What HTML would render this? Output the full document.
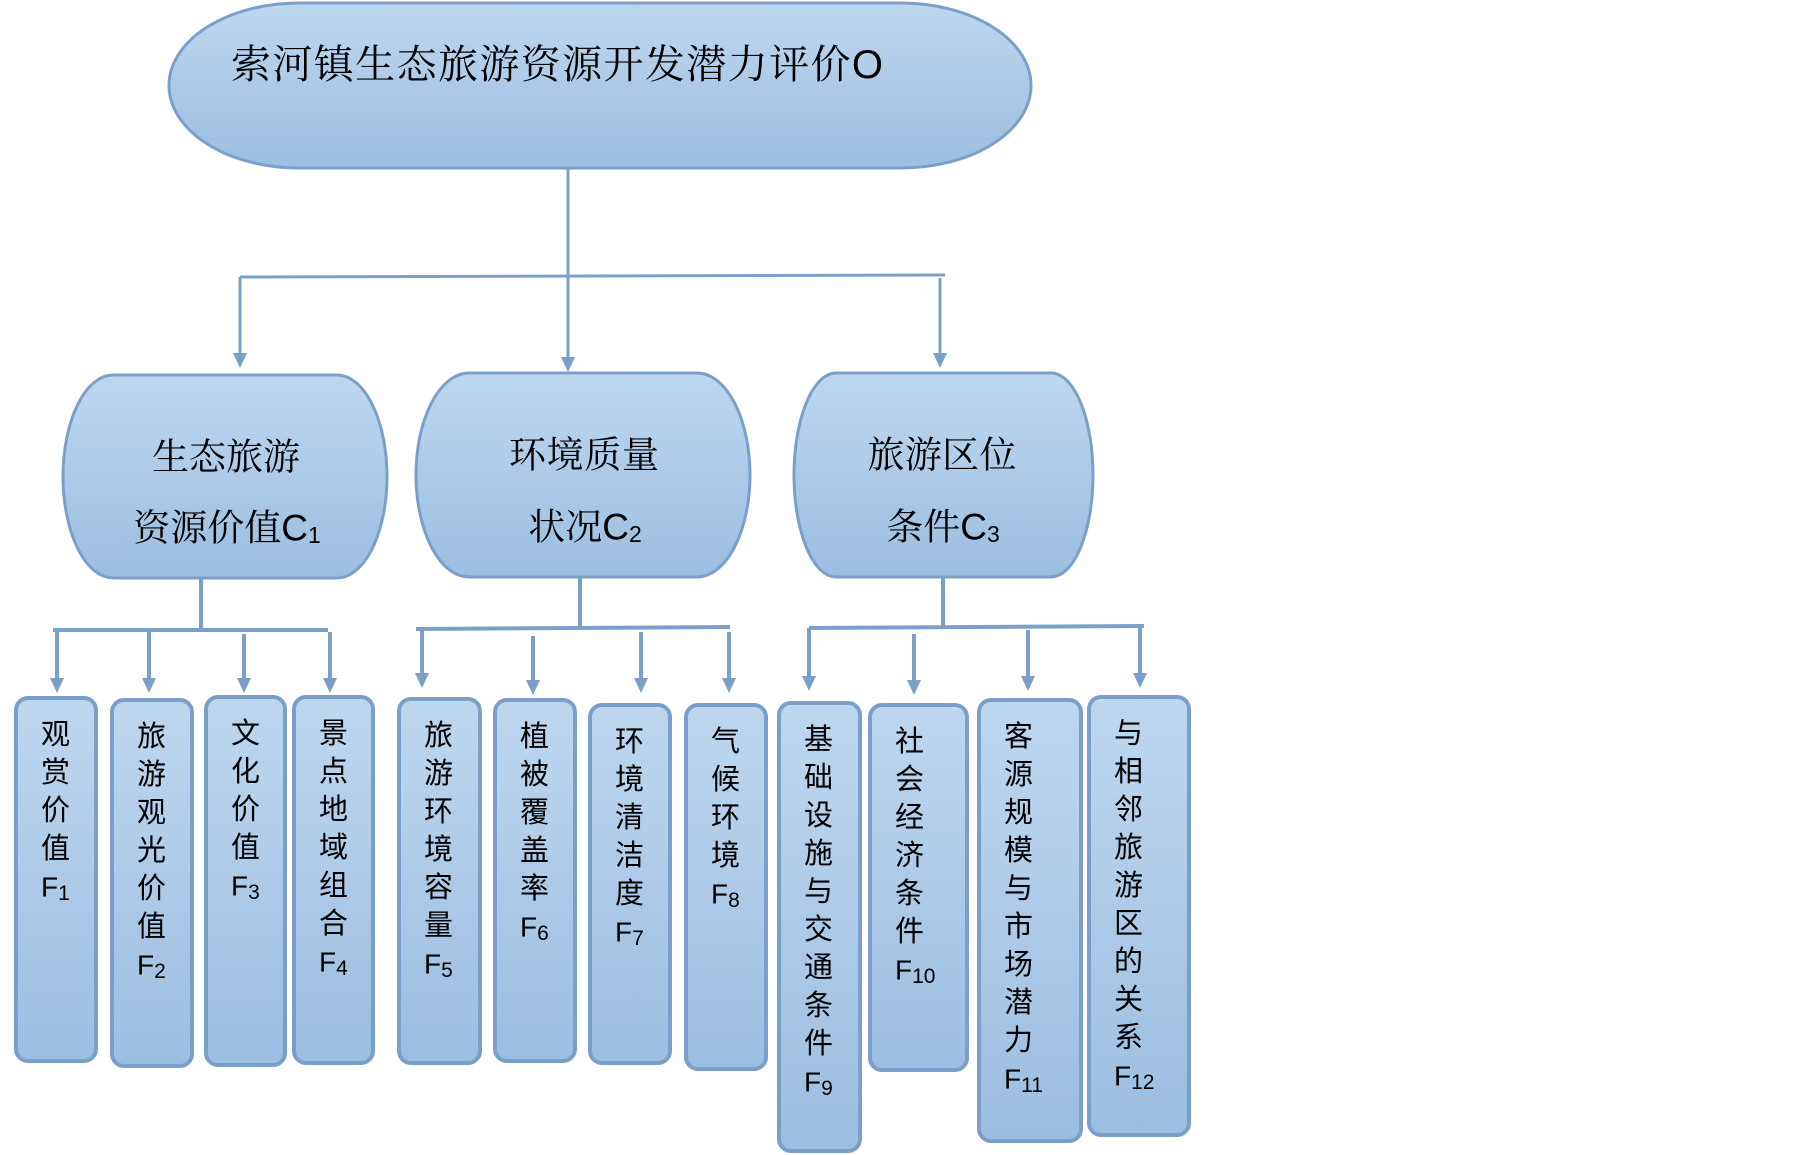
<!DOCTYPE html>
<html>
<head>
<meta charset="utf-8">
<style>
  html, body { margin: 0; padding: 0; background: #ffffff; }
  svg { display: block; }
  .ttl { font-family: "Liberation Sans", "Noto Serif CJK SC", serif; fill: #000; }
  .cl { font-family: "Liberation Sans", "Noto Serif CJK SC", serif; fill: #000; }
  .fl { font-family: "Liberation Sans", "Noto Sans CJK SC", sans-serif; fill: #000; }
</style>
</head>
<body>
<svg width="1805" height="1155" viewBox="0 0 1805 1155" xmlns="http://www.w3.org/2000/svg">
  <defs>
    <linearGradient id="g" x1="0" y1="0" x2="0" y2="1">
      <stop offset="0" stop-color="#bdd7f0"/>
      <stop offset="1" stop-color="#9cbee1"/>
    </linearGradient>
  </defs>

  <!-- Top node -->
  <rect x="169" y="3" width="862" height="165" rx="130" ry="82.5" fill="url(#g)" stroke="#7aa0c9" stroke-width="3"/>
  <text class="ttl" x="231" y="65" font-size="40" dominant-baseline="central" textLength="652" lengthAdjust="spacing">索河镇生态旅游资源开发潜力评价O</text>

  <!-- Top-level connectors -->
  <g stroke="#7aa0c9" stroke-width="3" fill="none">
    <line x1="568" y1="168" x2="568" y2="357"/>
    <line x1="240" y1="277" x2="945" y2="275"/>
    <line x1="240" y1="277" x2="240" y2="353"/>
    <line x1="940" y1="278" x2="940" y2="353"/>
  </g>
  <g fill="#7aa0c9">
    <polygon points="233,353 247,353 240,368"/>
    <polygon points="561,357 575,357 568,372"/>
    <polygon points="933,353 947,353 940,368"/>
  </g>

  <!-- C boxes -->
  <rect x="63" y="375" width="324" height="203" rx="50" ry="101.5" fill="url(#g)" stroke="#7aa0c9" stroke-width="3"/>
  <rect x="416" y="373" width="334" height="204" rx="53" ry="102" fill="url(#g)" stroke="#7aa0c9" stroke-width="3"/>
  <rect x="794" y="373" width="299" height="204" rx="42" ry="102" fill="url(#g)" stroke="#7aa0c9" stroke-width="3"/>

  <text class="cl" x="226" y="457" font-size="37" text-anchor="middle" dominant-baseline="central" textLength="148" lengthAdjust="spacing">生态旅游</text>
  <text class="cl" x="227" y="528" font-size="37" text-anchor="middle" dominant-baseline="central">资源价值C<tspan font-size="23" dy="7">1</tspan></text>
  <text class="cl" x="584" y="455" font-size="37" text-anchor="middle" dominant-baseline="central" textLength="150" lengthAdjust="spacing">环境质量</text>
  <text class="cl" x="585" y="527" font-size="37" text-anchor="middle" dominant-baseline="central">状况C<tspan font-size="23" dy="7">2</tspan></text>
  <text class="cl" x="942" y="455" font-size="37" text-anchor="middle" dominant-baseline="central" textLength="149" lengthAdjust="spacing">旅游区位</text>
  <text class="cl" x="943" y="527" font-size="37" text-anchor="middle" dominant-baseline="central">条件C<tspan font-size="23" dy="7">3</tspan></text>

  <!-- Lower connectors -->
  <g stroke="#7aa0c9" stroke-width="4" fill="none">
    <!-- C1 -->
    <line x1="201" y1="578" x2="201" y2="630"/>
    <line x1="53" y1="630" x2="328" y2="630"/>
    <line x1="57" y1="630" x2="57" y2="679"/>
    <line x1="149" y1="632" x2="149" y2="679"/>
    <line x1="244" y1="634" x2="244" y2="679"/>
    <line x1="330" y1="632" x2="330" y2="679"/>
    <!-- C2 -->
    <line x1="580" y1="577" x2="580" y2="627"/>
    <line x1="416" y1="629" x2="730" y2="627"/>
    <line x1="422" y1="629" x2="422" y2="674"/>
    <line x1="533" y1="636" x2="533" y2="681"/>
    <line x1="641" y1="632" x2="641" y2="679"/>
    <line x1="729" y1="632" x2="729" y2="679"/>
    <!-- C3 -->
    <line x1="943" y1="577" x2="943" y2="627"/>
    <line x1="809" y1="628" x2="1144" y2="626"/>
    <line x1="809" y1="628" x2="809" y2="677"/>
    <line x1="914" y1="634" x2="914" y2="681"/>
    <line x1="1028" y1="630" x2="1028" y2="677"/>
    <line x1="1140" y1="627" x2="1140" y2="674"/>
  </g>
  <g fill="#7aa0c9">
    <polygon points="50,678 64,678 57,693"/>
    <polygon points="142,678 156,678 149,693"/>
    <polygon points="237,678 251,678 244,693"/>
    <polygon points="323,678 337,678 330,693"/>

    <polygon points="415,673 429,673 422,688"/>
    <polygon points="526,680 540,680 533,695"/>
    <polygon points="634,678 648,678 641,693"/>
    <polygon points="722,678 736,678 729,693"/>

    <polygon points="802,676 816,676 809,691"/>
    <polygon points="907,680 921,680 914,695"/>
    <polygon points="1021,676 1035,676 1028,691"/>
    <polygon points="1133,673 1147,673 1140,688"/>
  </g>

  <!-- F boxes -->
  <g fill="url(#g)" stroke="#7aa0c9" stroke-width="4">
    <rect x="16" y="698" width="80" height="363" rx="12" ry="12"/>
    <rect x="112" y="700" width="80" height="366" rx="12" ry="12"/>
    <rect x="206" y="697" width="79" height="368" rx="12" ry="12"/>
    <rect x="294" y="697" width="79" height="366" rx="12" ry="12"/>
    <rect x="399" y="699" width="81" height="364" rx="12" ry="12"/>
    <rect x="495" y="700" width="80" height="361" rx="12" ry="12"/>
    <rect x="590" y="705" width="80" height="358" rx="12" ry="12"/>
    <rect x="686" y="705" width="80" height="364" rx="12" ry="12"/>
    <rect x="779" y="703" width="81" height="448" rx="12" ry="12"/>
    <rect x="870" y="705" width="97" height="365" rx="12" ry="12"/>
    <rect x="979" y="700" width="102" height="441" rx="12" ry="12"/>
    <rect x="1089" y="697" width="100" height="438" rx="12" ry="12"/>
  </g>

  <!-- F texts -->
  <g class="fl" font-size="29" text-anchor="middle" dominant-baseline="central">
    <text x="55.5" y="735">观</text><text x="55.5" y="773">赏</text><text x="55.5" y="811">价</text><text x="55.5" y="849">值</text>
    <text x="151.5" y="737">旅</text><text x="151.5" y="775">游</text><text x="151.5" y="813">观</text><text x="151.5" y="851">光</text><text x="151.5" y="889">价</text><text x="151.5" y="927">值</text>
    <text x="245.5" y="734">文</text><text x="245.5" y="772">化</text><text x="245.5" y="810">价</text><text x="245.5" y="848">值</text>
    <text x="333.5" y="734">景</text><text x="333.5" y="772">点</text><text x="333.5" y="810">地</text><text x="333.5" y="848">域</text><text x="333.5" y="886">组</text><text x="333.5" y="924">合</text>
    <text x="438.5" y="736">旅</text><text x="438.5" y="774">游</text><text x="438.5" y="812">环</text><text x="438.5" y="850">境</text><text x="438.5" y="888">容</text><text x="438.5" y="926">量</text>
    <text x="534.5" y="737">植</text><text x="534.5" y="775">被</text><text x="534.5" y="813">覆</text><text x="534.5" y="851">盖</text><text x="534.5" y="889">率</text>
    <text x="629.5" y="742">环</text><text x="629.5" y="780">境</text><text x="629.5" y="818">清</text><text x="629.5" y="856">洁</text><text x="629.5" y="894">度</text>
    <text x="725.5" y="742">气</text><text x="725.5" y="780">候</text><text x="725.5" y="818">环</text><text x="725.5" y="856">境</text>
    <text x="818.5" y="740">基</text><text x="818.5" y="778">础</text><text x="818.5" y="816">设</text><text x="818.5" y="854">施</text><text x="818.5" y="892">与</text><text x="818.5" y="930">交</text><text x="818.5" y="968">通</text><text x="818.5" y="1006">条</text><text x="818.5" y="1044">件</text>
    <text x="909.5" y="742">社</text><text x="909.5" y="780">会</text><text x="909.5" y="818">经</text><text x="909.5" y="856">济</text><text x="909.5" y="894">条</text><text x="909.5" y="932">件</text>
    <text x="1018.5" y="737">客</text><text x="1018.5" y="775">源</text><text x="1018.5" y="813">规</text><text x="1018.5" y="851">模</text><text x="1018.5" y="889">与</text><text x="1018.5" y="927">市</text><text x="1018.5" y="965">场</text><text x="1018.5" y="1003">潜</text><text x="1018.5" y="1041">力</text>
    <text x="1128.5" y="734">与</text><text x="1128.5" y="772">相</text><text x="1128.5" y="810">邻</text><text x="1128.5" y="848">旅</text><text x="1128.5" y="886">游</text><text x="1128.5" y="924">区</text><text x="1128.5" y="962">的</text><text x="1128.5" y="1000">关</text><text x="1128.5" y="1038">系</text>
  </g>

  <!-- F labels -->
  <g class="fl" font-size="28" dominant-baseline="central">
    <text x="41" y="887">F<tspan font-size="21" dy="6">1</tspan></text>
    <text x="137" y="965">F<tspan font-size="21" dy="6">2</tspan></text>
    <text x="231" y="886">F<tspan font-size="21" dy="6">3</tspan></text>
    <text x="319" y="962">F<tspan font-size="21" dy="6">4</tspan></text>
    <text x="424" y="964">F<tspan font-size="21" dy="6">5</tspan></text>
    <text x="520" y="927">F<tspan font-size="21" dy="6">6</tspan></text>
    <text x="615" y="932">F<tspan font-size="21" dy="6">7</tspan></text>
    <text x="711" y="894">F<tspan font-size="21" dy="6">8</tspan></text>
    <text x="804" y="1082">F<tspan font-size="21" dy="6">9</tspan></text>
    <text x="895" y="970">F<tspan font-size="21" dy="6">10</tspan></text>
    <text x="1004" y="1079">F<tspan font-size="21" dy="6">11</tspan></text>
    <text x="1114" y="1076">F<tspan font-size="21" dy="6">12</tspan></text>
  </g>
</svg>
</body>
</html>
